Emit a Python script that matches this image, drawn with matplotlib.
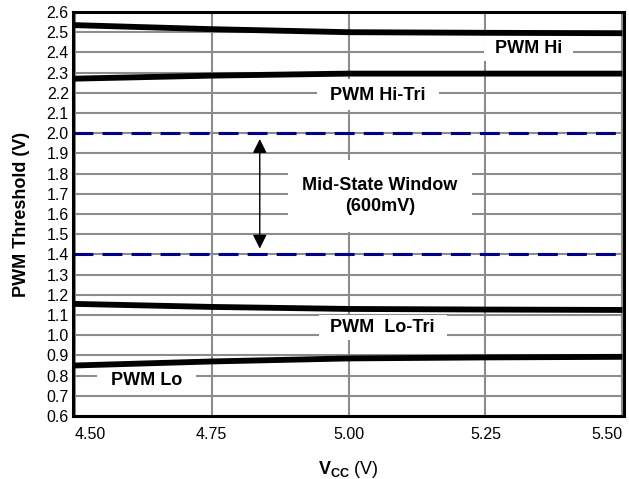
import numpy as np
import matplotlib
matplotlib.use("Agg")
import matplotlib.pyplot as plt
from matplotlib.patches import Rectangle

plt.rcParams['font.family'] = ['Liberation Sans', 'DejaVu Sans']
plt.rcParams['mathtext.fontset'] = 'custom'
plt.rcParams['mathtext.rm'] = 'Liberation Sans'
plt.rcParams['mathtext.bf'] = 'Liberation Sans:bold'

# data
vcc = [4.50, 4.75, 5.00, 5.25, 5.50]
pwm_hi = [2.535, 2.515, 2.500, 2.497, 2.495]
pwm_hi_tri = [2.270, 2.285, 2.295, 2.295, 2.295]
pwm_lo_tri = [1.155, 1.140, 1.130, 1.127, 1.125]
pwm_lo = [0.850, 0.870, 0.885, 0.890, 0.893]
window_hi = 2.0
window_lo = 1.4

xticks = [4.50, 4.75, 5.00, 5.25, 5.50]
yticks = np.round(np.arange(0.6, 2.61, 0.1), 1)

fig = plt.figure(figsize=(6.29, 4.79), dpi=100)
ax = fig.add_axes([73 / 629, 1 - 416 / 479, (624 - 73) / 629, (416 - 12) / 479])

ax.set_xlim(4.497, 5.503)
ax.set_ylim(0.6, 2.6)
ax.set_xticks(xticks)
ax.set_xticklabels(['%.2f' % t for t in xticks])
ax.set_yticks(yticks)
ax.set_yticklabels(['%.1f' % t for t in yticks])
ax.tick_params(length=0, labelsize=11.5)
ax.tick_params(axis='y', pad=3)
ax.tick_params(axis='x', pad=8)
xl = ax.get_xticklabels()
xl[0].set_ha('left')
xl[-1].set_ha('right')
ax.grid(True, color='#8c8c8c', lw=1.5, zorder=0)
ax.set_axisbelow(True)
for s in ax.spines.values():
    s.set_linewidth(2.2)
    s.set_color('black')
    s.set_zorder(6)

# white label boxes (x0, y0, x1, y1)
boxes = [(5.248, 2.355, 5.409, 2.49),
         (4.943, 2.115, 5.166, 2.27),
         (4.889, 1.511, 5.226, 1.867),
         (4.947, 0.976, 5.179, 1.10),
         (4.540, 0.719, 4.721, 0.867)]
for x0, y0, x1, y1 in boxes:
    ax.add_patch(Rectangle((x0, y0), x1 - x0, y1 - y0, facecolor='white',
                           edgecolor='none', zorder=1))

for ys in [pwm_hi, pwm_hi_tri, pwm_lo_tri, pwm_lo]:
    ax.plot(vcc, ys, color='black', lw=4.2, solid_capstyle='butt', zorder=3)

for yv in [window_hi, window_lo]:
    ax.axhline(yv, color='#00008b', lw=2.2, ls=(0, (6.5, 3)), zorder=3)

kw = dict(fontsize=13, fontweight='bold', ha='center', va='center', zorder=4)
ax.text(5.328, 2.417, 'PWM Hi', **kw)
ax.text(5.053, 2.189, 'PWM Hi-Tri', **kw)
ax.text(5.057, 1.689, 'Mid-State Window\n(600mV)', linespacing=1.35, **kw)
ax.text(5.062, 1.04, 'PWM  Lo-Tri', **kw)
ax.text(4.631, 0.778, 'PWM Lo', **kw)

ax.annotate('', xy=(4.838, window_hi - 0.015), xytext=(4.838, window_lo + 0.015),
            arrowprops=dict(arrowstyle='<|-|>,head_length=0.7,head_width=0.35',
                            color='black', lw=1, mutation_scale=12),
            zorder=4)

ax.set_ylabel('PWM Threshold (V)', fontsize=13, fontweight='bold', labelpad=12)
ax.set_xlabel(r'$\mathbf{V_{CC}}$ (V)', fontsize=13, labelpad=12)

fig.savefig('out.png', dpi=100)
